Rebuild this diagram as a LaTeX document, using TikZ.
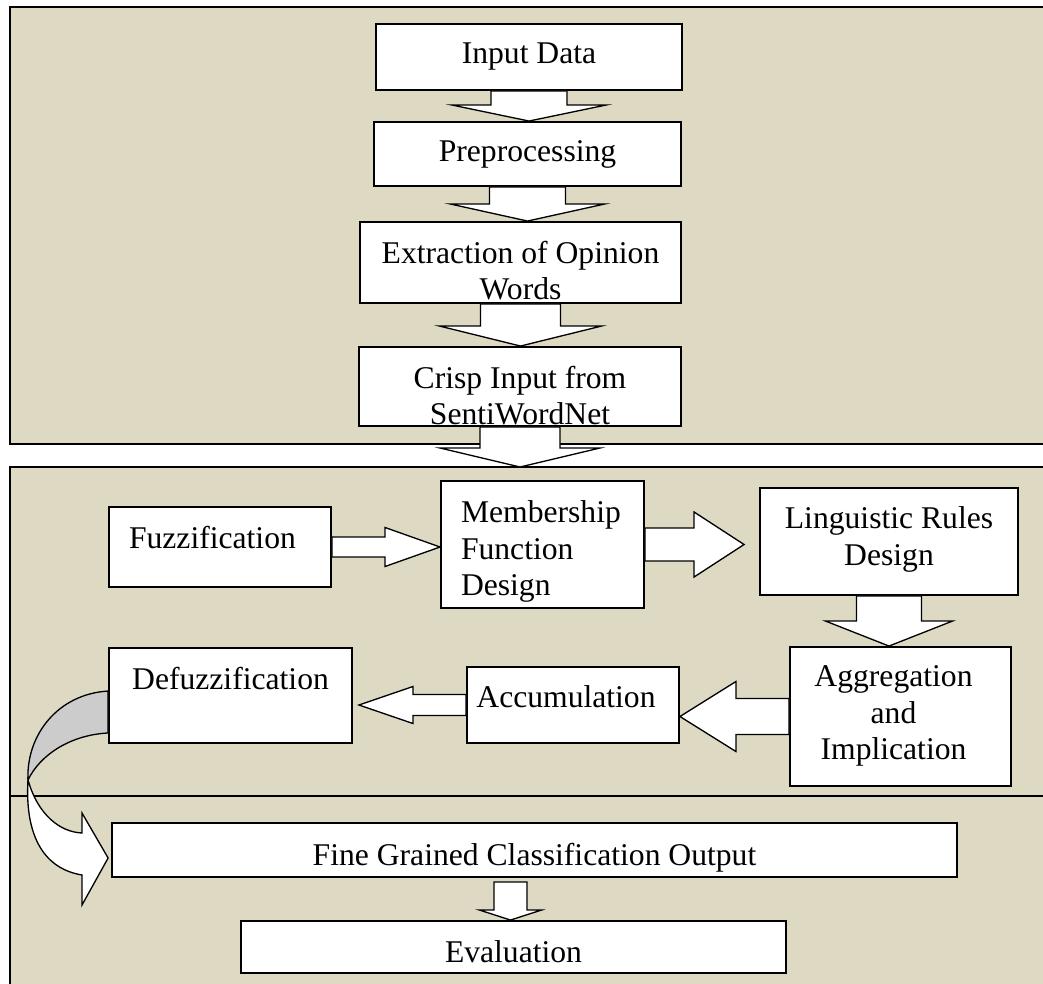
\documentclass[tikz,border=0pt]{standalone}
\usepackage{fontspec}
\setmainfont{Liberation Serif}
\usepackage{xcolor}
\usepackage{tikz}
\usetikzlibrary{calc}
\definecolor{panelbg}{HTML}{DDD9C3}

\tikzset{
  panel/.style={draw, line width=1pt, fill=panelbg},
  stagebox/.style={draw, line width=1.1pt, fill=white, inner sep=0pt},
  stagetext/.style={anchor=north, yshift=-0.39cm, inner sep=0pt, align=center,
    font=\fontsize{18pt}{20.6pt}\selectfont},
  blockarrow/.style={draw, line width=0.75pt, fill=white},
}

% freccia piena verso il basso: da, a, mezzo gambo, mezza punta, lunghezza punta
\newcommand{\vblock}[5]{%
  \draw[blockarrow] let \p1=(#1), \p2=(#2) in
    (\x1-#3,\y1) -- (\x1-#3,\y2+#5) -- (\x1-#4,\y2+#5) -- (\x1,\y2)
    -- (\x1+#4,\y2+#5) -- (\x1+#3,\y2+#5) -- (\x1+#3,\y1) -- cycle;}
% freccia piena orizzontale
\newcommand{\hblock}[5]{%
  \draw[blockarrow] let \p1=(#1), \p2=(#2), \n1={sign(\x2-\x1)} in
    (\x1,\y1-#3) -- ({\x2-(\n1)*#5},\y1-#3) -- ({\x2-(\n1)*#5},\y1-#4) -- (\x2,\y1)
    -- ({\x2-(\n1)*#5},\y1+#4) -- ({\x2-(\n1)*#5},\y1+#3) -- (\x1,\y1+#3) -- cycle;}

\begin{document}
\begin{tikzpicture}[x=0.02cm, y=-0.02cm]
    % Area del disegno
    \useasboundingbox (0,0) rectangle (1043,983);
    \clip (0,0) rectangle (1043,983);
    \fill[white] (0,0) rectangle (1043,983);

    % Pannelli
    \draw[panel] (10,7) rectangle (1060,444);
    \draw[panel] (10,467) rectangle (1060,796);
    \draw[panel] (10,796) rectangle (1060,1000);
    \coordinate (top2) at (520,467);

    % Blocchi della prima fase
    \node[stagebox, minimum width=6.12cm, minimum height=1.32cm,
      label={[stagetext]above:Input Data}] (input) at (529,57) {};
    \node[stagebox, minimum width=6.14cm, minimum height=1.28cm,
      label={[stagetext]above:Preprocessing}] (prep) at (527.5,154) {};
    \node[stagebox, minimum width=6.42cm, minimum height=1.62cm,
      label={[stagetext]above:{Extraction of Opinion\\Words}}] (extr) at (520.5,262.5) {};
    \node[stagebox, minimum width=6.44cm, minimum height=1.58cm,
      label={[stagetext]above:{Crisp Input from\\SentiWordNet}}] (crisp) at (520,386.5) {};

    % Blocchi della logica fuzzy
    \node[stagebox, minimum width=4.44cm, minimum height=1.6cm,
      label={[stagetext, text width=3.64cm, align=left]above:Fuzzification}] (fuzz) at (220,547) {};
    \node[stagebox, minimum width=4.06cm, minimum height=2.54cm,
      label={[stagetext, text width=3.4cm, align=left, xshift=0.07cm, yshift=-0.02cm]above:{Membership\\Function\\Design}}] (memb) at (542.5,544.5) {};
    \node[stagebox, minimum width=5.16cm, minimum height=2.14cm,
      label={[stagetext]above:{Linguistic Rules\\Design}}] (rules) at (889,541.5) {};
    \node[stagebox, minimum width=4.42cm, minimum height=2.78cm,
      label={[stagetext, xshift=-0.14cm]above:{Aggregation\\and\\Implication}}] (aggr) at (900.5,716.5) {};
    \node[stagebox, minimum width=4.24cm, minimum height=1.52cm,
      label={[stagetext, xshift=-0.14cm]above:Accumulation}] (accum) at (573,705) {};
    \node[stagebox, minimum width=4.86cm, minimum height=1.9cm,
      label={[stagetext]above:Defuzzification}] (defuzz) at (230.5,695.5) {};

    % Uscita
    \node[stagebox, minimum width=16.9cm, minimum height=1.08cm,
      label={[stagetext, yshift=-0.02cm]above:Fine Grained Classification Output}] (output) at (534.5,850) {};
    \node[stagebox, minimum width=10.9cm, minimum height=1.04cm,
      label={[stagetext, yshift=-0.02cm]above:Evaluation}] (eval) at (513.5,947) {};

    % Frecce
    \vblock{input.south}{prep.north}{0.76cm}{1.54cm}{0.32cm}
    \vblock{prep.south}{extr.north}{0.76cm}{1.54cm}{0.34cm}
    \vblock{extr.south}{crisp.north}{0.8cm}{1.62cm}{0.4cm}
    \vblock{crisp.south}{top2}{0.8cm}{1.6cm}{0.38cm}
    \hblock{fuzz.east}{memb.west}{0.2cm}{0.39cm}{1.1cm}
    \hblock{memb.east}{$(rules.west)+(-15,0)$}{0.33cm}{0.65cm}{1.0cm}
    \vblock{rules.south}{rules.south |- aggr.north}{0.65cm}{1.27cm}{0.5cm}
    \hblock{aggr.west}{accum.east}{0.36cm}{0.7cm}{1.12cm}
    \hblock{accum.west}{$(defuzz.east)+(6,0)$}{0.21cm}{0.37cm}{1.08cm}
    \vblock{$(output.south -| eval.north)+(-3,4)$}{eval.north}{0.33cm}{0.62cm}{0.2cm}

    % Freccia curva verso l'uscita
    \coordinate (twist) at (28,780);
    \draw[blockarrow, fill=black!20] ($(defuzz.north west)+(0,44)$)
      .. controls (58,694) and (26,735) .. (twist)
      .. controls (40,755) and (70,735) .. ($(defuzz.south west)+(0,-11)$) -- cycle;
    \draw[blockarrow] (twist) .. controls (38,815) and (60,832) .. (82,833)
      -- (82,813) -- ($(output.west)+(-3,8)$) -- (82,905) -- (82,875)
      .. controls (40,868) and (25,830) .. (twist) -- cycle;
\end{tikzpicture}
\end{document}
